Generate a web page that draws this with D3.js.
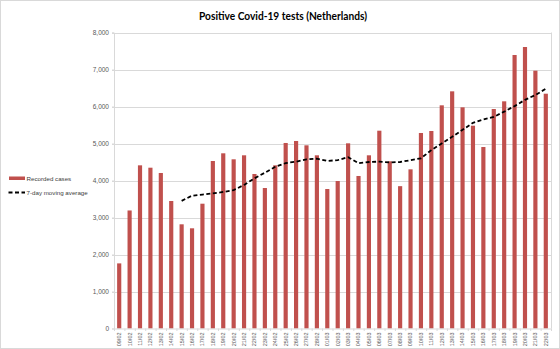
<!DOCTYPE html>
<html>
<head>
<meta charset="utf-8">
<script src="https://cdn.jsdelivr.net/npm/d3@7"></script>
<style>
  html, body { margin: 0; padding: 0; background: #fff; }
  svg { display: block; }
</style>
</head>
<body>
<svg id="chart" width="560" height="349"></svg>
<script>
const dates = ["09/02","10/02","11/02","12/02","13/02","14/02","15/02","16/02","17/02","18/02","19/02","20/02","21/02","22/02","23/02","24/02","25/02","26/02","27/02","28/02",
  "01/03","02/03","03/03","04/03","05/03","06/03","07/03","08/03","09/03","10/03","11/03","12/03","13/03","14/03","15/03","16/03","17/03","18/03","19/03","20/03","21/03","22/03"];
const recordedCases = [1760,3190,4410,4346,4203,3446,2816,2708,3373,4527,4735,4573,4681,4176,3797,4410,5014,5068,4951,4681,
  3770,3986,5005,4122,4681,5346,4519,3847,4302,5284,5338,6032,6410,5978,5481,4905,5932,6140,7392,7608,6968,6346];
// 7-day moving average (starts at 15/02)
const movingAverage = [null,null,null,null,null,null,3450,3590,3620,3650,3690,3740,3880,4060,4210,4370,4470,4510,4570,4590,
  4530,4550,4630,4470,4500,4510,4490,4500,4550,4600,4820,5000,5180,5370,5560,5650,5720,5860,6010,6180,6310,6480];
const yTicks = [0,1000,2000,3000,4000,5000,6000,7000,8000];
const title = "Positive Covid-19 tests (Netherlands)";
const legendLabels = ["Recorded cases","7-day moving average"];

const svg = d3.select("#chart");
const W = 560, H = 349;
const m = {left: 114, right: 9, top: 32.5, bottom: 20.5};
const barColor = "#c0504d";

svg.append("rect").attr("x",0.5).attr("y",0.5).attr("width",W-1).attr("height",H-1)
  .attr("fill","#fff").attr("stroke","#d9d9d9");

const x = d3.scaleBand().domain(dates).range([m.left, W - m.right]).paddingInner(0.6).paddingOuter(0.3);
const y = d3.scaleLinear().domain([0, 8000]).range([H - m.bottom, m.top]);

// gridlines
svg.append("g").selectAll("line").data(yTicks.filter(d => d > 0)).join("line")
  .attr("x1", m.left - 2).attr("x2", W - m.right)
  .attr("y1", d => Math.round(y(d)) + 0.5).attr("y2", d => Math.round(y(d)) + 0.5)
  .attr("stroke", "#d9d9d9").attr("stroke-width", 1);
svg.append("line").attr("x1", W - m.right + 0.5).attr("x2", W - m.right + 0.5)
  .attr("y1", y(8000)).attr("y2", y(0)).attr("stroke", "#d9d9d9");

// y axis
const yAxis = d3.axisLeft(y).tickValues(yTicks).tickFormat(d3.format(",")).tickSize(2).tickPadding(3);
const gy = svg.append("g").attr("transform", `translate(${m.left},0)`).call(yAxis);
gy.select(".domain").attr("stroke", "#d9d9d9");
gy.selectAll(".tick line").attr("stroke", "#d9d9d9");
gy.selectAll("text").attr("font-family", "Liberation Sans, Arial, sans-serif")
  .attr("font-size", 6.5).attr("fill", "#595959");

// bars
svg.append("g").selectAll("rect").data(recordedCases).join("rect")
  .attr("x", (d, i) => x(dates[i]))
  .attr("width", x.bandwidth())
  .attr("y", d => y(d))
  .attr("height", d => y(0) - y(d))
  .attr("fill", barColor);

// x axis
const step = x.step();
const xAxis = d3.axisBottom(x).tickSize(0).tickPadding(0);
const gx = svg.append("g").attr("transform", `translate(0,${y(0)})`).call(xAxis);
gx.select(".domain").attr("stroke", "#d9d9d9");
gx.selectAll(".tick text")
  .attr("font-family", "Liberation Sans, Arial, sans-serif")
  .attr("font-size", 5.5).attr("fill", "#595959")
  .attr("transform", "rotate(-90)")
  .attr("text-anchor", "end")
  .attr("dy", "0.35em").attr("x", -4).attr("y", 0);
svg.append("g").selectAll("line").data(dates.concat(["end"])).join("line")
  .attr("x1", (d, i) => m.left + i * step + 0.5)
  .attr("x2", (d, i) => m.left + i * step + 0.5)
  .attr("y1", y(0)).attr("y2", y(0) + 2.5)
  .attr("stroke", "#d9d9d9");

// moving average line
const line = d3.line()
  .defined(d => d != null)
  .x((d, i) => x(dates[i]) + x.bandwidth() / 2)
  .y(d => y(d));
svg.append("path").datum(movingAverage)
  .attr("d", line).attr("fill", "none")
  .attr("stroke", "#000").attr("stroke-width", 1.8)
  .attr("stroke-dasharray", "4,2.5");

// title
svg.append("text").attr("x", 283).attr("y", 20)
  .attr("text-anchor", "middle")
  .attr("font-family", "Lato, Open Sans, Liberation Sans, sans-serif")
  .attr("font-weight", "bold").attr("font-size", 11).attr("fill", "#000")
  .attr("textLength", 168).attr("lengthAdjust", "spacingAndGlyphs")
  .text(title);

// legend
const lg = svg.append("g");
lg.append("rect").attr("x", 9).attr("y", 176.5).attr("width", 16).attr("height", 3.5).attr("fill", barColor);
lg.append("line").attr("x1", 8.5).attr("x2", 25).attr("y1", 192.5).attr("y2", 192.5)
  .attr("stroke", "#000").attr("stroke-width", 1.8).attr("stroke-dasharray", "4,2.5");
lg.selectAll("text").data(legendLabels).join("text")
  .attr("x", 26.5).attr("y", (d, i) => 178.5 + i * 14)
  .attr("dy", "0.35em")
  .attr("font-family", "Liberation Sans, Arial, sans-serif")
  .attr("font-size", 6.2).attr("fill", "#404040")
  .text(d => d);
</script>
</body>
</html>
